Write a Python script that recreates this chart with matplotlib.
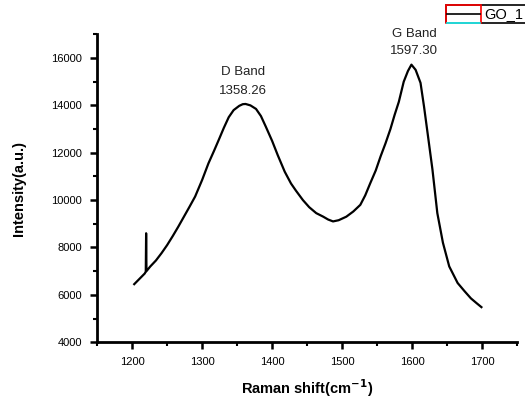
import matplotlib.pyplot as plt
from matplotlib.patches import Rectangle
from matplotlib.lines import Line2D
from matplotlib.ticker import MultipleLocator

plt.rcParams['font.family'] = ['Liberation Sans', 'DejaVu Sans']

# Raman spectrum of GO (wavenumber in cm^-1, intensity in a.u.)
shift = [1203, 1208, 1213, 1218, 1219.5, 1220, 1220.5, 1226, 1234, 1242,
         1250, 1258, 1266, 1274, 1282, 1290, 1300, 1309, 1317, 1324,
         1331, 1338, 1345, 1353, 1358, 1362, 1369, 1377, 1384, 1391,
         1400, 1408, 1418, 1427, 1434, 1444, 1453, 1463, 1473, 1480,
         1487, 1495, 1506, 1516, 1526, 1533, 1540, 1548, 1555, 1562,
         1569, 1575, 1581, 1588, 1594, 1599, 1605, 1612, 1617, 1622,
         1629, 1636, 1644, 1653, 1665, 1675, 1684, 1692, 1699]
intensity = [6450, 6600, 6750, 6900, 6980, 8600, 7000, 7200, 7450, 7760,
             8100, 8480, 8880, 9300, 9720, 10150, 10850, 11550, 12080, 12560,
             13050, 13500, 13800, 13980, 14050, 14060, 14000, 13850, 13550, 13100,
             12500, 11900, 11200, 10700, 10400, 10000, 9700, 9450, 9300, 9180,
             9100, 9150, 9300, 9520, 9800, 10200, 10700, 11250, 11850, 12400,
             13000, 13600, 14150, 15000, 15450, 15720, 15500, 14950, 13950, 12850,
             11300, 9450, 8200, 7200, 6500, 6150, 5850, 5650, 5480]

d_band = 1358.26
g_band = 1597.30

fig = plt.figure(figsize=(5.25, 4.04), dpi=100)
ax = fig.add_axes([0.185, 0.153, 0.80, 0.762])

ax.plot(shift, intensity, color='black', linewidth=1.6)

ax.set_xlim(1150, 1750)
ax.set_ylim(4000, 17000)
ax.xaxis.set_major_locator(MultipleLocator(100))
ax.xaxis.set_minor_locator(MultipleLocator(50))
ax.yaxis.set_major_locator(MultipleLocator(2000))
ax.yaxis.set_minor_locator(MultipleLocator(1000))

for side in ('top', 'right'):
    ax.spines[side].set_visible(False)
for side in ('left', 'bottom'):
    ax.spines[side].set_linewidth(2)

ax.tick_params(which='major', direction='out', length=5, width=1.8,
               labelsize=8, pad=6)
ax.tick_params(which='minor', direction='out', length=3, width=1.5)

ax.set_xlabel('Raman shift(cm$^{\\mathbf{-1}}$)', fontsize=10.5,
              fontweight='bold', labelpad=7)
ax.set_ylabel('Intensity(a.u.)', fontsize=10.5, fontweight='bold',
              labelpad=18)

# peak labels
label_kw = dict(ha='center', va='center', fontsize=9.5, color='#222222',
                clip_on=False)
ax.text(d_band, 15400, 'D Band', **label_kw)
ax.text(d_band, 14590, f'{d_band:.2f}', **label_kw)
ax.text(g_band + 6, 17010, 'G Band', **label_kw)
ax.text(g_band + 6, 16290, f'{g_band:.2f}', **label_kw)

# legend box in the top right corner (partly off the page)
W, H = 525.0, 404.0
def fx(px):
    return px / W
def fy(py):
    return 1 - py / H

fig.add_artist(Rectangle((fx(446), fy(22.5)), fx(600) - fx(446),
                         fy(5) - fy(22.5), transform=fig.transFigure,
                         fill=False, edgecolor='black', linewidth=1.2))
fig.add_artist(Rectangle((fx(446), fy(22.5)), fx(481) - fx(446),
                         fy(5) - fy(22.5), transform=fig.transFigure,
                         fill=False, edgecolor='red', linewidth=1.2))
fig.add_artist(Line2D([fx(447), fx(480)], [fy(22.5), fy(22.5)],
                      transform=fig.transFigure, color='cyan', linewidth=1.2))
fig.add_artist(Line2D([fx(447), fx(480)], [fy(14), fy(14)],
                      transform=fig.transFigure, color='black', linewidth=1.2))
fig.text(fx(484), fy(14), 'GO_1', ha='left', va='center', fontsize=10.5)

fig.savefig('out.png', dpi=100)
